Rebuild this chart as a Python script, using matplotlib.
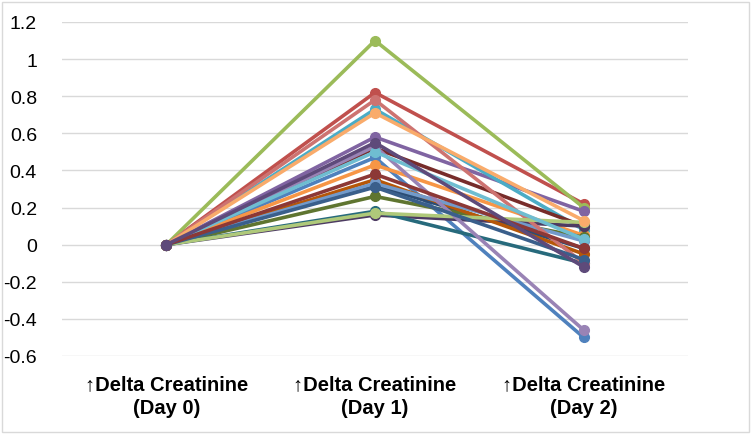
import matplotlib.pyplot as plt
from matplotlib.patches import Rectangle

# --- DATA ---
categories = ["\u2191Delta Creatinine\n(Day 0)",
              "\u2191Delta Creatinine\n(Day 1)",
              "\u2191Delta Creatinine\n(Day 2)"]

day0 = [0.0] * 21
day1 = [0.47, 0.82, 1.10, 0.58, 0.73, 0.43, 0.32, 0.52, 0.26, 0.16, 0.18,
        0.35, 0.33, 0.78, 0.17, 0.53, 0.50, 0.71, 0.31, 0.38, 0.55]
day2 = [-0.50, 0.22, 0.20, 0.18, 0.08, 0.05, -0.02, 0.10, 0.04, 0.10, -0.10,
        -0.05, 0.02, -0.10, 0.12, -0.46, 0.03, 0.13, -0.08, -0.02, -0.12]

colors = ["#4F81BD", "#C0504D", "#9BBB59", "#8064A2", "#4BACC6", "#F79646",
          "#2C4D75", "#772C2A", "#5F7530", "#4D3B62", "#276A7C", "#B65708",
          "#729ACA", "#CD7371", "#AFC97A", "#9983B5", "#6FBDD1", "#F9AB6B",
          "#3A5F8B", "#8C3836", "#5E4A7A"]

# --- PLOT ---
fig = plt.figure(figsize=(7.52, 4.35), dpi=100)
ax = fig.add_axes([62 / 752, 1 - 357 / 435, 626 / 752, 334 / 435])

x = range(len(categories))
for i in range(len(day1)):
    ax.plot(x, [day0[i], day1[i], day2[i]], color=colors[i], lw=2.6,
            marker="o", markersize=7, zorder=3)

ax.set_xlim(-0.5, 2.5)
ax.set_ylim(-0.6, 1.2)
ax.set_yticks([-0.6, -0.4, -0.2, 0, 0.2, 0.4, 0.6, 0.8, 1, 1.2])
ax.set_yticklabels(["-0.6", "-0.4", "-0.2", "0", "0.2", "0.4", "0.6", "0.8", "1", "1.2"],
                   fontsize=14, family=["Liberation Sans", "DejaVu Sans"])
ax.set_xticks(list(x))
ax.set_xticklabels(categories, fontsize=14.5, fontweight="bold",
                   family=["Liberation Sans", "DejaVu Sans"], linespacing=1.35)
ax.tick_params(axis="y", length=0, pad=18)
ax.tick_params(axis="x", length=0, pad=13)
ax.grid(axis="y", color="#D9D9D9", lw=1)
ax.set_axisbelow(True)
for s in ax.spines.values():
    s.set_visible(False)

# chart border
fig.patches.append(Rectangle((0.002, 0.004), 0.994, 0.99, transform=fig.transFigure,
                             fill=False, edgecolor="#D9D9D9", lw=1))

fig.savefig("out.png", dpi=100)
